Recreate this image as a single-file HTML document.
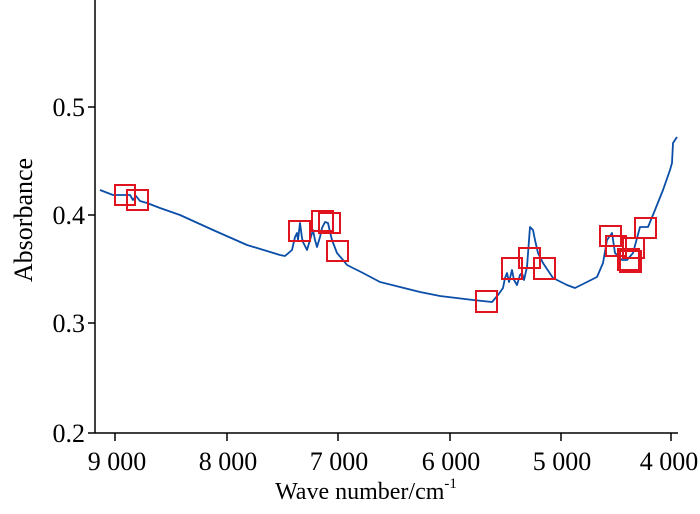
<!DOCTYPE html>
<html><head><meta charset="utf-8"><style>
html,body{margin:0;padding:0;background:#fff;}
svg text{font-family:"Liberation Serif",serif;fill:#000;}
</style></head><body>
<svg width="700" height="509" viewBox="0 0 700 509" xmlns="http://www.w3.org/2000/svg">
<g stroke="#000" stroke-width="1.5" fill="none">
<line x1="95" y1="0" x2="95" y2="433"/>
<line x1="95" y1="433" x2="678" y2="433"/>
<line x1="88" y1="107" x2="95" y2="107"/>
<line x1="88" y1="215" x2="95" y2="215"/>
<line x1="88" y1="323" x2="95" y2="323"/>
<line x1="88" y1="433" x2="95" y2="433"/>
<line x1="115" y1="433" x2="115" y2="441"/>
<line x1="227" y1="433" x2="227" y2="441"/>
<line x1="338" y1="433" x2="338" y2="441"/>
<line x1="450" y1="433" x2="450" y2="441"/>
<line x1="561" y1="433" x2="561" y2="441"/>
<line x1="671" y1="433" x2="671" y2="441"/>
</g>
<g font-size="26" text-anchor="end">
<text x="85" y="116">0.5</text>
<text x="85" y="224">0.4</text>
<text x="85" y="332">0.3</text>
<text x="85" y="442">0.2</text>
</g>
<g font-size="26" text-anchor="middle">
<text x="117" y="470">9 000</text>
<text x="228" y="470">8 000</text>
<text x="339" y="470">7 000</text>
<text x="451" y="470">6 000</text>
<text x="562" y="470">5 000</text>
<text x="669" y="470">4 000</text>
<text x="366" y="499" font-size="24">Wave number/cm<tspan font-size="15" dy="-11">-1</tspan></text>
<text transform="translate(32,220) rotate(-90)">Absorbance</text>
</g>
<polyline fill="none" stroke="#0a4ea8" stroke-width="1.8" stroke-linejoin="round" points="
100,190 113,195 130,195 133,200 136,196 140,201 147,203 160,208 180,215 213,230 247,245 280,255 285,256 292,250 295,237 297,233 298,240 300,223 302,238 303,242 307,250 310,240 313,230 315,240 317,247 320,237 322,228 325,222 328,223 330,232 332,240 337,253 343,260 347,265 363,273 380,282 400,287 420,292 440,296 473,300 492,302 498,295 503,288 505,278 507,273 509,282 512,270 514,280 517,285 520,275 522,273 524,280 527,267 530,227 533,230 535,240 538,253 543,263 553,278 567,285 575,288 587,282 597,277 603,263 607,240 612,233 615,253 622,260 627,260 633,253 640,227 648,227 655,210 663,190 670,170 672,163 673,143 677,137"/>
<g fill="none" stroke="#e0141e" stroke-width="2">
<rect x="115" y="185" width="20" height="20"/>
<rect x="127" y="190" width="21" height="20"/>
<rect x="289" y="221" width="21" height="20"/>
<rect x="312" y="211" width="21" height="20"/>
<rect x="319" y="213" width="21" height="20"/>
<rect x="327" y="241" width="21" height="20"/>
<rect x="476" y="291" width="21" height="21"/>
<rect x="502" y="258" width="20" height="21"/>
<rect x="519" y="248" width="21" height="20"/>
<rect x="534" y="258" width="21" height="21"/>
<rect x="600" y="226" width="21" height="20"/>
<rect x="606" y="236" width="20" height="20"/>
<rect x="623" y="238" width="21" height="20"/>
<rect x="618" y="249" width="21" height="21"/>
<rect x="620" y="251" width="21" height="21"/>
<rect x="635" y="218" width="21" height="20"/>
</g>
</svg>
</body></html>
